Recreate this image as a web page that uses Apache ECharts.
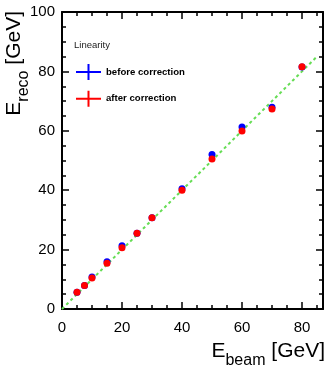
<!DOCTYPE html>
<html>
<head>
<meta charset="utf-8">
<script src="https://cdn.jsdelivr.net/npm/echarts@6/dist/echarts.min.js"></script>
<style>
html,body{margin:0;padding:0;background:#fff;}
#chart{width:326px;height:365px;}
</style>
</head>
<body>
<div id="chart"></div>
<script>
// ---- data ----
const beamEnergy = [5, 7.5, 10, 15, 20, 25, 30, 40, 50, 60, 70, 80];
const recoBefore = [5.6, 7.9, 10.8, 15.9, 21.3, 25.5, 30.7, 40.5, 52.0, 61.3, 67.9, 81.5];
const recoAfter  = [5.6, 7.9, 10.4, 15.4, 20.6, 25.5, 30.7, 40.0, 50.5, 59.9, 67.3, 81.6];
const idealLineX = [0, 85];
const seriesNames = ['before correction', 'after correction'];
const legendTitle = 'Linearity';
const xTicks = [0, 20, 40, 60, 80];
const yTicks = [0, 20, 40, 60, 80, 100];

const FONT = 'Liberation Sans, Arial, Helvetica, sans-serif';
const chart = echarts.init(document.getElementById('chart'), null, {renderer: 'canvas'});

const crossIcon = 'path://M0,7h25v2h-25z M11.5,0h2v16h-2z';

function xAx(pos, interval, tickLen, showLabel, showLine) {
  return {
    type: 'value', position: pos, min: 0, max: 87, interval: interval,
    axisLine: {show: showLine, onZero: false, lineStyle: {color: '#000', width: 2}},
    axisTick: {show: true, inside: true, length: tickLen, lineStyle: {color: '#000', width: 1.5}},
    axisLabel: {show: showLabel, color: '#000', fontFamily: FONT, fontSize: 15, margin: 11, showMaxLabel: false,
      formatter: v => (xTicks.indexOf(v) >= 0 ? String(v) : '')},
    splitLine: {show: false}
  };
}
function yAx(pos, showLabel) {
  return {
    type: 'value', position: pos, min: 0, max: 100, interval: 20,
    axisLine: {show: true, onZero: false, lineStyle: {color: '#000', width: 2}},
    axisTick: {show: true, inside: true, length: 7, lineStyle: {color: '#000', width: 1.5}},
    minorTick: {show: true, splitNumber: 4, length: 4, lineStyle: {color: '#000', width: 1.5}},
    axisLabel: {show: showLabel, color: '#000', fontFamily: FONT, fontSize: 15, margin: 7,
      formatter: v => (yTicks.indexOf(v) >= 0 ? String(v) : '')},
    splitLine: {show: false}
  };
}

const titleRich = {
  m: {fontFamily: FONT, fontSize: 21, lineHeight: 22, verticalAlign: 'top', fill: '#000'},
  s: {fontFamily: FONT, fontSize: 16, lineHeight: 16, padding: [12, 0, 0, 0], verticalAlign: 'top', fill: '#000'}
};

const option = {
  backgroundColor: '#fff',
  animation: false,
  grid: {left: 62, right: 3, top: 12, bottom: 56, containLabel: false},
  xAxis: [
    xAx('bottom', 20, 7, true, true),
    xAx('bottom', 5, 4, false, false),
    xAx('top', 20, 7, false, true),
    xAx('top', 5, 4, false, false)
  ],
  yAxis: [yAx('left', true), yAx('right', false)],
  legend: {
    orient: 'vertical', left: 71, top: 59, padding: 5, itemWidth: 25, itemHeight: 16, itemGap: 10.7,
    icon: crossIcon,
    data: seriesNames,
    textStyle: {fontFamily: FONT, fontSize: 9.6, fontWeight: 'bold', color: '#000'}
  },
  graphic: [
    {type: 'text', left: 74, top: 40, style: {text: legendTitle, fontFamily: FONT, fontSize: 9.5, fill: '#222'}},
    {type: 'text', x: 325, y: 341, style: {
      text: '{m|E}{s|beam}{m| [GeV]}', align: 'right', verticalAlign: 'top', rich: titleRich}},
    {type: 'text', x: 3.5, y: 11, rotation: Math.PI / 2, style: {
      text: '{m|E}{s|reco}{m| [GeV]}', align: 'right', verticalAlign: 'top', rich: titleRich}}
  ],
  series: [
    {
      type: 'line', name: 'ideal', xAxisIndex: 0, yAxisIndex: 0,
      data: idealLineX.map(v => [v, v]), symbol: 'none', silent: true,
      lineStyle: {color: '#66dd55', width: 2, type: [3, 3]}, z: 1
    },
    {
      type: 'scatter', name: seriesNames[0], xAxisIndex: 0, yAxisIndex: 0,
      data: beamEnergy.map((e, i) => [e, recoBefore[i]]),
      symbol: 'circle', symbolSize: 7, itemStyle: {color: '#0000ff', opacity: 1}, z: 2
    },
    {
      type: 'scatter', name: seriesNames[1], xAxisIndex: 0, yAxisIndex: 0,
      data: beamEnergy.map((e, i) => [e, recoAfter[i]]),
      symbol: 'circle', symbolSize: 7, itemStyle: {color: '#ff0000', opacity: 1}, z: 3
    }
  ]
};
chart.setOption(option);
</script>
</body>
</html>
